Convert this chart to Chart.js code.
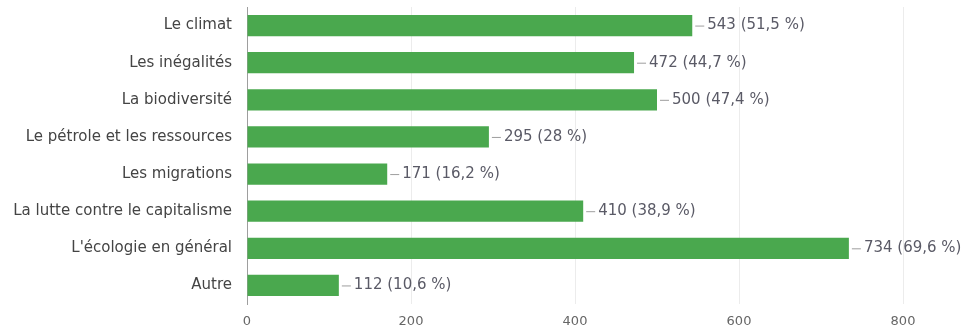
<!DOCTYPE html>
<html>
<head>
<meta charset="utf-8">
<script src="https://cdn.jsdelivr.net/npm/chart.js@4"></script>
<style>
  html, body { margin: 0; padding: 0; background: #fff; }
  #wrap { width: 967px; height: 331px; }
</style>
</head>
<body>
<div id="wrap"><canvas id="bars"></canvas></div>
<script>
const categories = [
    "Le climat",
    "Les inégalités",
    "La biodiversité",
    "Le pétrole et les ressources",
    "Les migrations",
    "La lutte contre le capitalisme",
    "L'écologie en général",
    "Autre"
];
const counts = [543, 472, 500, 295, 171, 410, 734, 112];
const percents = ["51,5", "44,7", "47,4", "28", "16,2", "38,9", "69,6", "10,6"];
const xTicks = [0, 200, 400, 600, 800];

// leader line + "count (pct %)" after each bar
const valueLabels = {
    id: 'valueLabels',
    afterDatasetsDraw(chart) {
        const ctx = chart.ctx;
        const meta = chart.getDatasetMeta(0);
        ctx.save();
        ctx.font = '15px "DejaVu Sans", sans-serif';
        ctx.textBaseline = 'middle';
        meta.data.forEach((bar, i) => {
            const x = bar.x, y = bar.y;
            ctx.strokeStyle = '#9e9e9e';
            ctx.lineWidth = 1;
            ctx.beginPath();
            ctx.moveTo(x + 3, y + 0.5);
            ctx.lineTo(x + 12, y + 0.5);
            ctx.stroke();
            ctx.fillStyle = '#5a5a66';
            ctx.fillText(counts[i] + ' (' + percents[i] + ' %)', x + 15, y);
        });
        ctx.restore();
    }
};

const ctx = document.getElementById('bars');
new Chart(ctx, {
    type: 'bar',
    data: {
        labels: categories,
        datasets: [{
            data: counts,
            backgroundColor: '#4aa84e',
            barPercentage: 0.57,
            categoryPercentage: 1
        }]
    },
    options: {
        indexAxis: 'y',
        responsive: true,
        maintainAspectRatio: false,
        animation: false,
        layout: { padding: { top: 7, right: 64, left: 0, bottom: 0 } },
        plugins: { legend: { display: false }, tooltip: { enabled: false } },
        scales: {
            x: {
                min: 0,
                max: 800,
                afterBuildTicks: s => { s.ticks = xTicks.map(v => ({ value: v })); },
                afterFit: s => { s.height = 27; },
                grid: { color: '#ececec', drawTicks: false },
                border: { display: false },
                ticks: { color: '#666', font: { family: 'DejaVu Sans', size: 13 }, padding: 10 }
            },
            y: {
                // categories are offset, so no half-label overhang is needed
                afterFit: s => { s.width = 247; s.paddingTop = 0; s.paddingBottom = 0; },
                grid: { display: false },
                border: { display: true, color: '#9e9e9e' },
                ticks: { color: '#444', font: { family: 'DejaVu Sans', size: 15 }, padding: 7 }
            }
        }
    },
    plugins: [valueLabels]
});
</script>
</body>
</html>
